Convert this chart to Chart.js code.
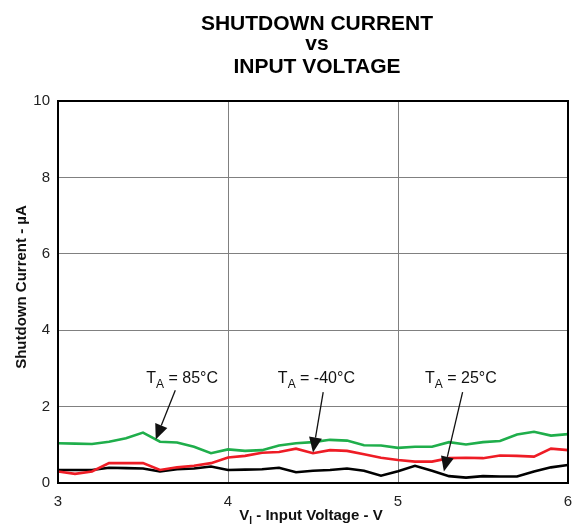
<!doctype html>
<html>
<head>
<title>Shutdown Current vs Input Voltage</title>
<script src="https://cdn.jsdelivr.net/npm/chart.js@4.4.9/dist/chart.umd.min.js"></script>
<script>
// input voltage, V (0.1 V steps)
const voltage = [3.0,3.1,3.2,3.3,3.4,3.5,3.6,3.7,3.8,3.9,4.0,4.1,4.2,4.3,4.4,4.5,4.6,4.7,4.8,4.9,5.0,
                 5.1,5.2,5.3,5.4,5.5,5.6,5.7,5.8,5.9,6.0];
// shutdown current, uA
const hot85 = [1.04,1.03,1.02,1.08,1.17,1.32,1.08,1.06,0.95,0.78,0.88,
               0.84,0.86,0.98,1.04,1.07,1.13,1.11,0.99,0.98,0.92,
               0.95,0.95,1.07,1.01,1.07,1.10,1.27,1.34,1.24,1.28];
const cold40 = [0.30,0.24,0.30,0.52,0.52,0.52,0.34,0.41,0.45,0.52,0.67,
                0.71,0.79,0.81,0.90,0.78,0.86,0.84,0.75,0.66,0.60,
                0.56,0.56,0.65,0.66,0.65,0.72,0.71,0.69,0.90,0.86];
const room25 = [0.34,0.34,0.34,0.40,0.39,0.38,0.30,0.36,0.38,0.43,0.34,
                0.35,0.36,0.40,0.28,0.32,0.34,0.38,0.32,0.19,0.31,
                0.45,0.32,0.18,0.14,0.18,0.17,0.17,0.30,0.41,0.47];

// callouts: label text, label anchor and arrow (data units)
const callouts = [
  { temp: '85°C',  tx: 3.73, ty: 2.62, x0: 3.69, y0: 2.43, x1: 3.575, y1: 1.14 },
  { temp: '-40°C', tx: 4.52, ty: 2.62, x0: 4.56, y0: 2.38, x1: 4.50, y1: 0.80 },
  { temp: '25°C',  tx: 5.37, ty: 2.62, x0: 5.38, y0: 2.38, x1: 5.27, y1: 0.30 },
];

const FONT = '"Liberation Sans", Arial, sans-serif';

function subText(ctx, parts, x, y, align) {
  // parts: [text, size, bold, dy]
  let w = 0;
  parts.forEach(p => { ctx.font = (p[2] ? 'bold ' : '') + p[1] + 'px ' + FONT; w += ctx.measureText(p[0]).width; });
  let cx = align === 'center' ? x - w / 2 : x;
  ctx.textAlign = 'left';
  parts.forEach(p => {
    ctx.font = (p[2] ? 'bold ' : '') + p[1] + 'px ' + FONT;
    ctx.fillText(p[0], cx, y + p[3]);
    cx += ctx.measureText(p[0]).width;
  });
}

const decorate = {
  id: 'decorate',
  afterDraw(chart) {
    const ctx = chart.ctx, a = chart.chartArea;
    const xs = chart.scales.x, ys = chart.scales.y;
    ctx.save();
    // frame
    ctx.strokeStyle = '#000';
    ctx.lineWidth = 2;
    ctx.strokeRect(a.left, a.top, a.right - a.left, a.bottom - a.top);

    ctx.fillStyle = '#000';
    ctx.textBaseline = 'alphabetic';
    // title
    ctx.textAlign = 'center';
    const cx = (a.left + a.right) / 2 + 4;
    ctx.font = 'bold 21px ' + FONT;
    ctx.fillText('SHUTDOWN CURRENT', cx, 30);
    ctx.fillText('vs', cx, 50);
    ctx.fillText('INPUT VOLTAGE', cx, 73);

    // x title
    ctx.fillStyle = '#111';
    subText(ctx, [['V', 15, true, 0], ['I', 10, true, 4], [' - Input Voltage - V', 15, true, 0]], cx - 6, 520, 'center');

    // y title
    ctx.save();
    ctx.translate(26, 287);
    ctx.rotate(-Math.PI / 2);
    ctx.textAlign = 'center';
    ctx.font = 'bold 15px ' + FONT;
    ctx.fillText('Shutdown Current - \u00b5A', 0, 0);
    ctx.restore();

    // callouts
    callouts.forEach(c => {
      ctx.fillStyle = '#111';
      subText(ctx, [['T', 16, false, 0], ['A', 12, false, 5], [' = ' + c.temp, 16, false, 0]],
              xs.getPixelForValue(c.tx), ys.getPixelForValue(c.ty), 'center');
      const px0 = xs.getPixelForValue(c.x0), py0 = ys.getPixelForValue(c.y0);
      const px1 = xs.getPixelForValue(c.x1), py1 = ys.getPixelForValue(c.y1);
      const ang = Math.atan2(py1 - py0, px1 - px0);
      const len = 15, half = 6.5;
      const bx = px1 - len * Math.cos(ang), by = py1 - len * Math.sin(ang);
      ctx.strokeStyle = '#111';
      ctx.lineWidth = 1.3;
      ctx.beginPath();
      ctx.moveTo(px0, py0);
      ctx.lineTo(bx, by);
      ctx.stroke();
      ctx.beginPath();
      ctx.moveTo(px1, py1);
      ctx.lineTo(bx + half * Math.sin(ang), by - half * Math.cos(ang));
      ctx.lineTo(bx - half * Math.sin(ang), by + half * Math.cos(ang));
      ctx.closePath();
      ctx.fill();
    });
    ctx.restore();
  }
};

function go() {
  const canvas = document.getElementById('chart');
  const pts = arr => arr.map((v, i) => ({ x: voltage[i], y: v }));
  new Chart(canvas, {
    type: 'line',
    data: {
      datasets: [
        { label: 'TA = 85°C', data: pts(hot85), borderColor: '#1fae4b' },
        { label: 'TA = -40°C', data: pts(cold40), borderColor: '#ee1c25' },
        { label: 'TA = 25°C', data: pts(room25), borderColor: '#000000' },
      ]
    },
    options: {
      responsive: false,
      animation: false,
      elements: { point: { radius: 0 }, line: { borderWidth: 2.6, tension: 0 } },
      layout: { padding: { top: 101, right: 8, left: 0, bottom: 0 } },
      plugins: { legend: { display: false }, tooltip: { enabled: false } },
      scales: {
        x: {
          type: 'linear', min: 3, max: 6,
          afterFit: s => { s.height = 46; s.paddingLeft = 0; s.paddingRight = 0; },
          ticks: { stepSize: 1, color: '#222', font: { family: FONT, size: 15 }, padding: 10 },
          grid: { color: '#808080', lineWidth: 1, drawTicks: false },
          border: { display: false }
        },
        y: {
          min: 0, max: 10,
          afterFit: s => { s.width = 58; s.paddingTop = 0; s.paddingBottom = 0; },
          ticks: { stepSize: 2, color: '#222', font: { family: FONT, size: 15 }, padding: 8 },
          grid: { color: '#808080', lineWidth: 1, drawTicks: false },
          border: { display: false }
        }
      }
    },
    plugins: [decorate]
  });
}
window.onload = go;
</script>
</head>
<body style="margin:0">
<canvas id="chart" width="576" height="529"></canvas>
</body>
</html>
